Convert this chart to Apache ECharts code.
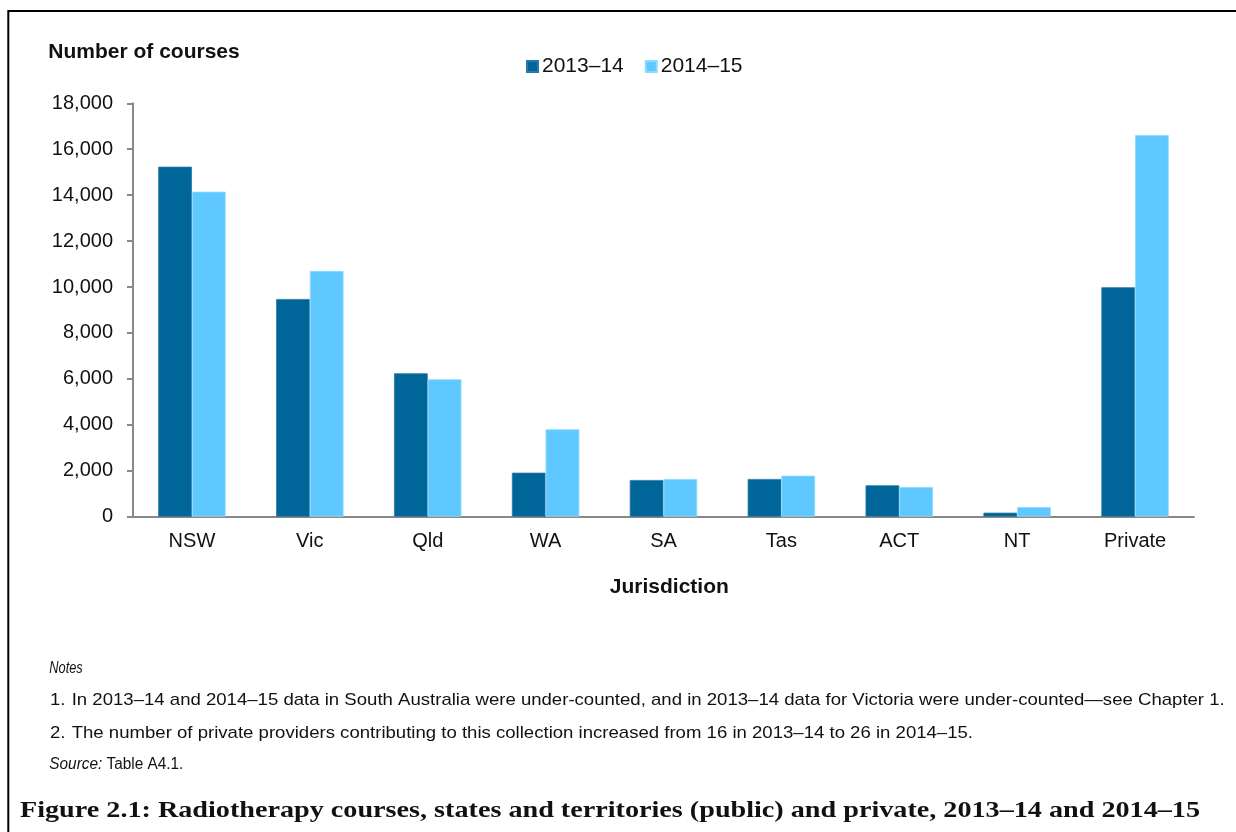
<!DOCTYPE html>
<html>
<head>
<meta charset="utf-8">
<title>Radiotherapy courses</title>
<script src="https://cdn.jsdelivr.net/npm/echarts@6/dist/echarts.min.js"></script>
<style>
  html, body { margin: 0; padding: 0; background: #fff; }
  #chart { width: 1236px; height: 832px; }
</style>
</head>
<body>
<div id="chart"></div>
<script>
// Radiotherapy courses by jurisdiction, two financial years
const categories = ['NSW', 'Vic', 'Qld', 'WA', 'SA', 'Tas', 'ACT', 'NT', 'Private'];
const courses2013_14 = [15240, 9480, 6245, 1916, 1598, 1642, 1367, 174, 9990];
const courses2014_15 = [14150, 10700, 5985, 3806, 1642, 1786, 1293, 422, 16610];
const seriesNames = ['2013\u201314', '2014\u201315'];

const yAxisTitle = 'Number of courses';
const xAxisTitle = 'Jurisdiction';
const notesHeading = 'Notes';
const noteLines = [
  'In 2013\u201314 and 2014\u201315 data in South Australia were under-counted, and in 2013\u201314 data for Victoria were under-counted\u2014see Chapter 1.',
  'The number of private providers contributing to this collection increased from 16 in 2013\u201314 to 26 in 2014\u201315.'
];
const sourceText = 'Table A4.1.';
const figureTitle = 'Figure 2.1: Radiotherapy courses, states and territories (public) and private, 2013\u201314 and 2014\u201315';

const SANS = '"Liberation Sans", Arial, Helvetica, sans-serif';
const SERIF = '"Liberation Serif", "Times New Roman", serif';

// measure text so the note lines and the figure title fill their line widths
const measureCtx = document.createElement('canvas').getContext('2d');
function textWidth(str, font) {
  measureCtx.font = font;
  return measureCtx.measureText(str).width;
}
const NOTE_SIZE = 17;
const noteScale = 1153 / textWidth(noteLines[0], NOTE_SIZE + 'px ' + SANS);
const headingScale = 0.8;   // condensed italic heading
const sourceScale = 0.96;
const titleScale = 1180 / textWidth(figureTitle, 'bold 24px ' + SERIF);

const chart = echarts.init(document.getElementById('chart'), null, { renderer: 'canvas' });

function noteText(x, y, text, size, scale, italic) {
  return {
    type: 'text', x: x, y: y, scaleX: scale, silent: true,
    style: {
      text: text, x: 0, y: 0, fontSize: size, fontStyle: italic ? 'italic' : 'normal',
      fontFamily: SANS, fill: '#111', verticalAlign: 'middle', align: 'left'
    }
  };
}

const option = {
  backgroundColor: '#ffffff',
  animation: false,
  textStyle: { fontFamily: SANS },
  grid: { left: 133, right: 42, top: 103.3, bottom: 315.3, containLabel: false, outerBoundsMode: 'none' },
  legend: {
    data: seriesNames,
    left: 526, top: 56, padding: 0,
    icon: 'rect', itemWidth: 11, itemHeight: 11, itemGap: 21,
    textStyle: { fontSize: 21, color: '#111', fontFamily: SANS, padding: [0, 0, 0, -1] }
  },
  xAxis: {
    type: 'category',
    data: categories,
    axisLine: { show: true, lineStyle: { color: '#888888', width: 2 } },
    axisTick: { show: false },
    axisLabel: { fontSize: 20, color: '#111', margin: 15, fontFamily: SANS },
    splitLine: { show: false }
  },
  yAxis: {
    type: 'value',
    min: 0, max: 18000, interval: 2000,
    axisLine: { show: true, lineStyle: { color: '#888888', width: 2 } },
    axisTick: { show: true, length: 6, lineStyle: { color: '#888888', width: 2 } },
    axisLabel: {
      fontSize: 20, color: '#111', margin: 20, fontFamily: SANS,
      formatter: v => v.toLocaleString('en-US')
    },
    splitLine: { show: false }
  },
  series: [
    {
      name: seriesNames[0], type: 'bar', data: courses2013_14,
      barGap: '0%', barCategoryGap: '42.8%',
      itemStyle: { color: '#006699', borderColor: '#2a7aa6', borderWidth: 0.8 }
    },
    {
      name: seriesNames[1], type: 'bar', data: courses2014_15,
      barGap: '0%', barCategoryGap: '42.8%',
      itemStyle: { color: '#5fc9ff', borderColor: '#8fdaff', borderWidth: 0.8 }
    }
  ],
  graphic: [
    // outer frame
    { type: 'rect', silent: true, shape: { x: 8.3, y: 11, width: 1260, height: 860 },
      style: { fill: 'none', stroke: '#000', lineWidth: 2 } },
    { type: 'text', x: 48.3, y: 51.8, silent: true,
      style: { text: yAxisTitle, fontSize: 21, fontWeight: 'bold', fontFamily: SANS, fill: '#111', verticalAlign: 'middle', align: 'left' } },
    { type: 'text', x: 669.3, y: 587.3, silent: true,
      style: { text: xAxisTitle, fontSize: 21, fontWeight: 'bold', fontFamily: SANS, fill: '#111', verticalAlign: 'middle', align: 'center' } },
    noteText(49.3, 668.5, notesHeading, 16, headingScale, true),
    noteText(50, 700.3, '1.', NOTE_SIZE, noteScale, false),
    noteText(71.7, 700.3, noteLines[0], NOTE_SIZE, noteScale, false),
    noteText(50, 733, '2.', NOTE_SIZE, noteScale, false),
    noteText(71.7, 733, noteLines[1], NOTE_SIZE, noteScale, false),
    {
      type: 'text', x: 49.3, y: 765, scaleX: sourceScale, silent: true,
      style: {
        text: '{i|Source:} ' + sourceText, x: 0, y: 0, fontSize: 16, fontFamily: SANS, fill: '#111',
        verticalAlign: 'middle', align: 'left',
        rich: { i: { fontStyle: 'italic', fontSize: 16, fontFamily: SANS, fill: '#111' } }
      }
    },
    {
      type: 'text', x: 20, y: 810.5, scaleX: titleScale, silent: true,
      style: { text: figureTitle, x: 0, y: 0, fontSize: 24, fontWeight: 'bold', fontFamily: SERIF, fill: '#111', verticalAlign: 'middle', align: 'left' }
    }
  ]
};

chart.setOption(option);
</script>
</body>
</html>
